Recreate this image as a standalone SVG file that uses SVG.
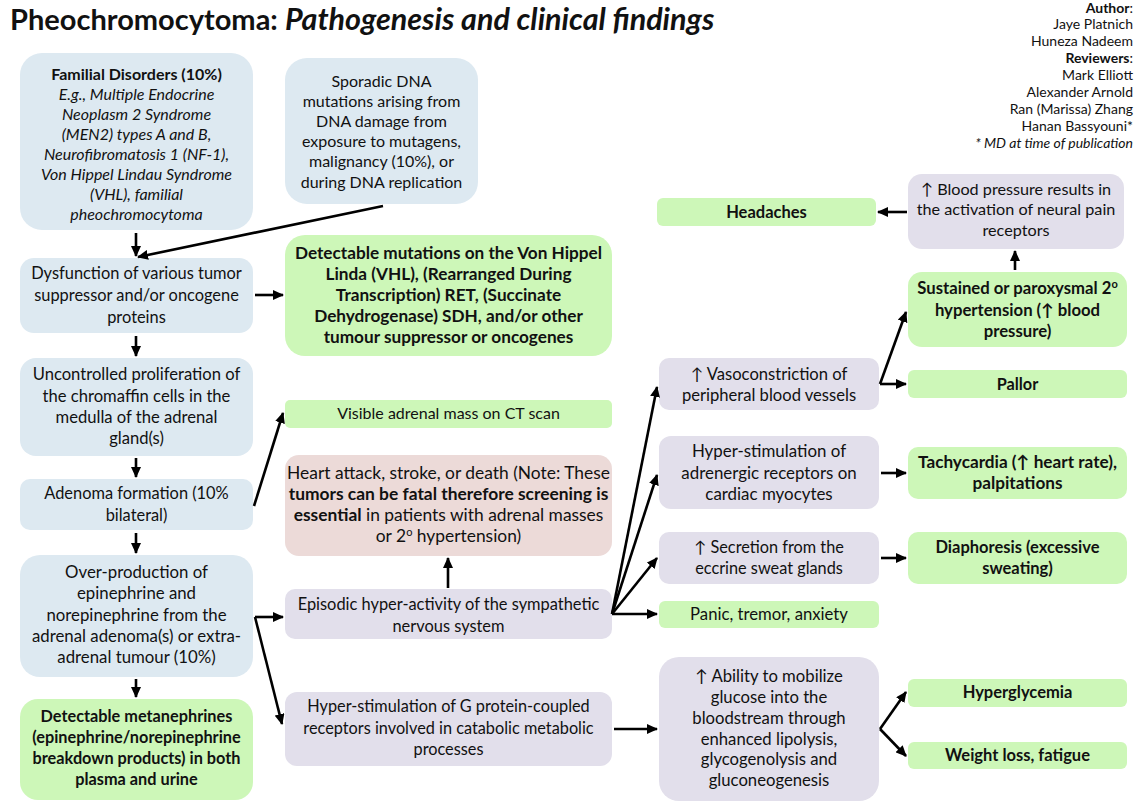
<svg xmlns="http://www.w3.org/2000/svg" width="1135" height="812" viewBox="0 0 1135 812">
<style>
text{font-family:Lato,"Liberation Sans",sans-serif;fill:#111;}
.t{text-anchor:middle;}
.b{font-weight:bold;}
.i{font-style:italic;}
.blue{fill:#dde9f1;}
.green{fill:#cdf7b8;}
.purple{fill:#e2dfeb;}
.pink{fill:#ecdad8;}
.auth{font-size:14px;text-anchor:end;}
.c{fill:none;stroke:#000;stroke-width:2.6;marker-end:url(#ah);}
</style>
<defs>
<marker id="ah" markerUnits="userSpaceOnUse" markerWidth="11" markerHeight="10" refX="10" refY="5" orient="auto">
<path d="M0,0 L11,5 L0,10 z" fill="#000"/>
</marker>
</defs>
<rect width="1135" height="812" fill="#fff"/>
<g id="title">
<text x="10" y="30" style="font-size:29px;font-weight:bold;">Pheochromocytoma: <tspan font-style="italic" font-size="30.5">Pathogenesis and clinical findings</tspan></text>
</g>
<g id="authors">
<text class="auth" x="1133" y="13"><tspan class="b">Author</tspan>:</text>
<text class="auth" x="1133" y="29">Jaye Platnich</text>
<text class="auth" x="1133" y="46">Huneza Nadeem</text>
<text class="auth" x="1133" y="63"><tspan class="b">Reviewers</tspan>:</text>
<text class="auth" x="1133" y="80">Mark Elliott</text>
<text class="auth" x="1133" y="97">Alexander Arnold</text>
<text class="auth" x="1133" y="114">Ran (Marissa) Zhang</text>
<text class="auth" x="1133" y="131">Hanan Bassyouni*</text>
<text class="auth i" x="1133" y="148">* MD at time of publication</text>
</g>
<g id="familial" font-size="16">
<rect class="blue" x="20" y="53" width="233" height="177" rx="22"/>
<text class="t b" x="136.5" y="80">Familial Disorders (10%)</text>
<text class="t i" x="136.5" y="100">E.g., Multiple Endocrine</text>
<text class="t i" x="136.5" y="120">Neoplasm 2 Syndrome</text>
<text class="t i" x="136.5" y="140">(MEN2) types A and B,</text>
<text class="t i" x="136.5" y="160">Neurofibromatosis 1 (NF-1),</text>
<text class="t i" x="136.5" y="180">Von Hippel Lindau Syndrome</text>
<text class="t i" x="136.5" y="200">(VHL), familial</text>
<text class="t i" x="136.5" y="220">pheochromocytoma</text>
</g>
<g id="sporadic" font-size="16">
<rect class="blue" x="285" y="58" width="193" height="146" rx="22"/>
<text class="t" x="381.5" y="87">Sporadic DNA</text>
<text class="t" x="381.5" y="107">mutations arising from</text>
<text class="t" x="381.5" y="127">DNA damage from</text>
<text class="t" x="381.5" y="147">exposure to mutagens,</text>
<text class="t" x="381.5" y="167">malignancy (10%), or</text>
<text class="t" x="381.5" y="188">during DNA replication</text>
</g>
<g id="dysfunction" font-size="16.4">
<rect class="blue" x="20" y="258" width="233" height="75" rx="14"/>
<text class="t" x="136.5" y="279">Dysfunction of various tumor</text>
<text class="t" x="136.5" y="301">suppressor and/or oncogene</text>
<text class="t" x="136.5" y="323">proteins</text>
</g>
<g id="mutations" font-size="17.2">
<rect class="green" x="285" y="235" width="327" height="121" rx="20"/>
<text class="t b" x="448.5" y="259">Detectable mutations on the Von Hippel</text>
<text class="t b" x="448.5" y="280">Linda (VHL), (Rearranged During</text>
<text class="t b" x="448.5" y="301">Transcription) RET, (Succinate</text>
<text class="t b" x="448.5" y="322">Dehydrogenase) SDH, and/or other</text>
<text class="t b" x="448.5" y="343">tumour suppressor or oncogenes</text>
</g>
<g id="uncontrolled" font-size="16.6">
<rect class="blue" x="20" y="358" width="233" height="98" rx="16"/>
<text class="t" x="136.5" y="380">Uncontrolled proliferation of</text>
<text class="t" x="136.5" y="402">the chromaffin cells in the</text>
<text class="t" x="136.5" y="423">medulla of the adrenal</text>
<text class="t" x="136.5" y="444">gland(s)</text>
</g>
<g id="adenoma" font-size="16.4">
<rect class="blue" x="20" y="479" width="233" height="51" rx="10"/>
<text class="t" x="136.5" y="499">Adenoma formation (10%</text>
<text class="t" x="136.5" y="521">bilateral)</text>
</g>
<g id="visible" font-size="16">
<rect class="green" x="285" y="400" width="327" height="28" rx="5"/>
<text class="t" x="448.5" y="419">Visible adrenal mass on CT scan</text>
</g>
<g id="heart" font-size="17.4">
<rect class="pink" x="285" y="455" width="327" height="101" rx="14"/>
<text class="t" x="448.5" y="479">Heart attack, stroke, or death (Note: These</text>
<text class="t b" x="448.5" y="500">tumors can be fatal therefore screening is</text>
<text class="t" x="448.5" y="521"><tspan class="b">essential</tspan> in patients with adrenal masses</text>
<text class="t" x="448.5" y="542">or 2<tspan font-size="11" dy="-6">o</tspan><tspan dy="6"> hypertension)</tspan></text>
</g>
<g id="overproduction" font-size="16.8">
<rect class="blue" x="20" y="555" width="233" height="122" rx="20"/>
<text class="t" x="136.5" y="578">Over-production of</text>
<text class="t" x="136.5" y="599">epinephrine and</text>
<text class="t" x="136.5" y="621">norepinephrine from the</text>
<text class="t" x="136.5" y="642">adrenal adenoma(s) or extra-</text>
<text class="t" x="136.5" y="663">adrenal tumour (10%)</text>
</g>
<g id="metanephrines" font-size="16.3">
<rect class="green" x="20" y="699" width="233" height="101" rx="18"/>
<text class="t b" x="136.5" y="722">Detectable metanephrines</text>
<text class="t b" x="136.5" y="743">(epinephrine/norepinephrine</text>
<text class="t b" x="136.5" y="764">breakdown products) in both</text>
<text class="t b" x="136.5" y="785">plasma and urine</text>
</g>
<g id="episodic" font-size="16.4">
<rect class="purple" x="285" y="589" width="327" height="50" rx="10"/>
<text class="t" x="448.5" y="610">Episodic hyper-activity of the sympathetic</text>
<text class="t" x="448.5" y="632">nervous system</text>
</g>
<g id="gprotein" font-size="16.3">
<rect class="purple" x="285" y="692" width="327" height="74" rx="12"/>
<text class="t" x="448.5" y="712">Hyper-stimulation of G protein-coupled</text>
<text class="t" x="448.5" y="734">receptors involved in catabolic metabolic</text>
<text class="t" x="448.5" y="755">processes</text>
</g>
<g id="headaches" font-size="16.5">
<rect class="green" x="657" y="198" width="219" height="28" rx="6"/>
<text class="t b" x="766.5" y="218">Headaches</text>
</g>
<g id="bloodpressure" font-size="16.2">
<rect class="purple" x="908" y="174" width="216" height="75" rx="14"/>
<text class="t" x="1016" y="195">↑ Blood pressure results in</text>
<text class="t" x="1016" y="215">the activation of neural pain</text>
<text class="t" x="1016" y="236">receptors</text>
</g>
<g id="sustained" font-size="16.7">
<rect class="green" x="908" y="272" width="219" height="75" rx="14"/>
<text class="t b" x="1017.5" y="294">Sustained or paroxysmal  2<tspan font-size="11" dy="-6">o</tspan></text>
<text class="t b" x="1017.5" y="316">hypertension (↑ blood</text>
<text class="t b" x="1017.5" y="337">pressure)</text>
</g>
<g id="vasoconstriction" font-size="16.6">
<rect class="purple" x="659" y="358" width="220" height="52" rx="10"/>
<text class="t" x="769" y="380">↑ Vasoconstriction of</text>
<text class="t" x="769" y="401">peripheral blood vessels</text>
</g>
<g id="pallor" font-size="16.3">
<rect class="green" x="908" y="370" width="219" height="28" rx="6"/>
<text class="t b" x="1017.5" y="390">Pallor</text>
</g>
<g id="adrenergic" font-size="16.9">
<rect class="purple" x="659" y="436" width="220" height="73" rx="12"/>
<text class="t" x="769" y="457">Hyper-stimulation of</text>
<text class="t" x="769" y="479">adrenergic receptors on</text>
<text class="t" x="769" y="500">cardiac myocytes</text>
</g>
<g id="tachycardia" font-size="17.2">
<rect class="green" x="908" y="447" width="219" height="52" rx="10"/>
<text class="t b" x="1017.5" y="468">Tachycardia (↑ heart rate),</text>
<text class="t b" x="1017.5" y="489">palpitations</text>
</g>
<g id="secretion" font-size="16.3">
<rect class="purple" x="659" y="532" width="220" height="52" rx="10"/>
<text class="t" x="769" y="553">↑ Secretion from the</text>
<text class="t" x="769" y="574">eccrine sweat glands</text>
</g>
<g id="diaphoresis" font-size="16.5">
<rect class="green" x="908" y="532" width="219" height="52" rx="10"/>
<text class="t b" x="1017.5" y="553">Diaphoresis (excessive</text>
<text class="t b" x="1017.5" y="574">sweating)</text>
</g>
<g id="panic" font-size="16.7">
<rect class="green" x="659" y="601" width="220" height="27" rx="6"/>
<text class="t" x="769" y="620">Panic, tremor, anxiety</text>
</g>
<g id="ability" font-size="16.7">
<rect class="purple" x="659" y="657" width="220" height="144" rx="20"/>
<text class="t" x="769" y="682">↑ Ability to mobilize</text>
<text class="t" x="769" y="703">glucose into the</text>
<text class="t" x="769" y="724">bloodstream through</text>
<text class="t" x="769" y="745">enhanced lipolysis,</text>
<text class="t" x="769" y="765">glycogenolysis and</text>
<text class="t" x="769" y="786">gluconeogenesis</text>
</g>
<g id="hyperglycemia" font-size="16.5">
<rect class="green" x="908" y="679" width="219" height="28" rx="6"/>
<text class="t b" x="1017.5" y="698">Hyperglycemia</text>
</g>
<g id="weightloss" font-size="16.5">
<rect class="green" x="908" y="742" width="219" height="27" rx="6"/>
<text class="t b" x="1017.5" y="761">Weight loss, fatigue</text>
</g>
<g id="connectors">
<path class="c" d="M136 233 L136 256"/>
<path class="c" d="M383 206 L138 257"/>
<path class="c" d="M255 295 L283 295"/>
<path class="c" d="M136 336 L136 356"/>
<path class="c" d="M136 458 L136 477"/>
<path class="c" d="M254 506 L283 413"/>
<path class="c" d="M136 533 L136 553"/>
<path class="c" d="M255 617 L283 617"/>
<path class="c" d="M255 617 L282 724"/>
<path class="c" d="M136 679 L136 697"/>
<path class="c" d="M448 588 L448 558"/>
<path class="c" d="M612 614 L657 387"/>
<path class="c" d="M612 614 L657 475"/>
<path class="c" d="M612 614 L657 558"/>
<path class="c" d="M612 614 L657 614"/>
<path class="c" d="M614 729 L657 729"/>
<path class="c" d="M880 729 L906 692"/>
<path class="c" d="M880 729 L906 756"/>
<path class="c" d="M880 384 L906 312"/>
<path class="c" d="M880 384 L906 384"/>
<path class="c" d="M881 473 L906 473"/>
<path class="c" d="M881 558 L906 558"/>
<path class="c" d="M1015 270 L1015 251"/>
<path class="c" d="M907 212 L878 212"/>
</g>
</svg>
